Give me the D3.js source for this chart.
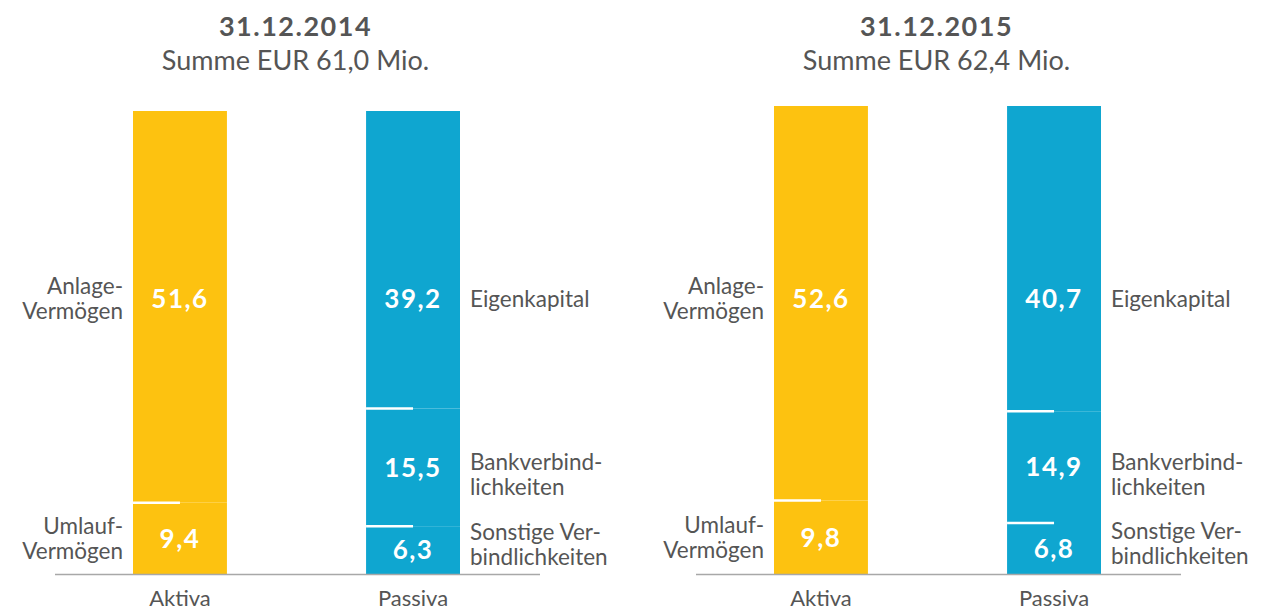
<!DOCTYPE html>
<html>
<head>
<meta charset="utf-8">
<script src="https://cdn.jsdelivr.net/npm/d3@7"></script>
<style>
  body { margin: 0; background: #fff; }
  svg { display: block; font-family: Lato, "Open Sans", sans-serif; }
</style>
</head>
<body>
<svg id="chart" width="1278" height="612"></svg>
<script>
// Data
const dates = ['31.12.2014', '31.12.2015'];
const totals = [61.0, 62.4];
const sides = ['Aktiva', 'Passiva'];

// bottom to top
const aktiva2014 = [9.4, 51.6];
const passiva2014 = [6.3, 15.5, 39.2];
const aktiva2015 = [9.8, 52.6];
const passiva2015 = [6.8, 14.9, 40.7];

const aktivaLabels = [['Umlauf-', 'Vermögen'], ['Anlage-', 'Vermögen']];
const passivaLabels = [['Sonstige Ver-', 'bindlichkeiten'], ['Bankverbind-', 'lichkeiten'], ['Eigenkapital']];

const panels = [
  { date: dates[0], total: totals[0], aktiva: aktiva2014, passiva: passiva2014 },
  { date: dates[1], total: totals[1], aktiva: aktiva2015, passiva: passiva2015 }
];

// Style
const yellow = '#FDC210';
const blue = '#0FA6D0';
const textColor = '#555555';
const baseY = 574;
const topLabelY = 299;
const panelOffset = 641;
const tops = [111, 106];
const sideFont = 22.5;

const de = d3.formatLocale({ decimal: ',', thousands: '.', grouping: [3], currency: ['', ' €'] });
const fmt = de.format('.1f');

const svg = d3.select('#chart');

panels.forEach((p, pi) => {
  const dx = pi * panelOffset;
  const g = svg.append('g').attr('transform', `translate(${dx},0)`);

  const x = d3.scaleBand()
    .domain(sides)
    .range([133, 460])
    .paddingInner(0.597)
    .paddingOuter(0);

  const y = d3.scaleLinear()
    .domain([0, p.total])
    .range([baseY, tops[pi]]);

  const cx = (x(sides[0]) + x(sides[1]) + x.bandwidth()) / 2 - 1;

  // Titles
  g.append('text')
    .attr('x', cx)
    .attr('y', 36)
    .attr('text-anchor', 'middle')
    .attr('fill', textColor)
    .style('font-size', '27px')
    .style('font-weight', 'bold')
    .style('letter-spacing', '1.5px')
    .text(p.date);

  g.append('text')
    .attr('x', cx)
    .attr('y', 70)
    .attr('text-anchor', 'middle')
    .attr('fill', textColor)
    .style('font-size', '27px')
    .text(`Summe EUR ${fmt(p.total)} Mio.`);

  // Stacks
  const groups = [
    { side: sides[0], values: p.aktiva, labels: aktivaLabels, color: yellow, labelLeft: true },
    { side: sides[1], values: p.passiva, labels: passivaLabels, color: blue, labelLeft: false }
  ];

  groups.forEach(grp => {
    const bx = x(grp.side);
    const bw = x.bandwidth();
    const ends = d3.cumsum(grp.values);
    const segs = grp.values.map((v, i) => ({ v, y0: ends[i] - v, y1: ends[i], label: grp.labels[i], top: i === grp.values.length - 1 }));

    g.selectAll(null)
      .data(segs)
      .enter()
      .append('rect')
      .attr('x', bx)
      .attr('width', bw)
      .attr('y', d => y(d.y1))
      .attr('height', d => y(d.y0) - y(d.y1))
      .attr('fill', grp.color);

    // divider lines
    g.selectAll(null)
      .data(segs.slice(0, -1))
      .enter()
      .append('line')
      .attr('x1', bx)
      .attr('x2', bx + bw / 2)
      .attr('y1', d => y(d.y1))
      .attr('y2', d => y(d.y1))
      .attr('stroke', '#fff')
      .attr('stroke-width', 2.5);

    const labelY = d => d.top ? topLabelY : (y(d.y0) + y(d.y1)) / 2;

    // value labels
    g.selectAll(null)
      .data(segs)
      .enter()
      .append('text')
      .attr('x', bx + bw / 2)
      .attr('y', labelY)
      .attr('dy', '0.36em')
      .attr('text-anchor', 'middle')
      .attr('fill', '#fff')
      .style('font-size', '26px')
      .style('font-weight', 'bold')
      .style('letter-spacing', '1.5px')
      .text(d => fmt(d.v));

    // side labels
    const lx = grp.labelLeft ? bx - 10 : bx + bw + 10;
    const lineH = 25;
    const side = g.selectAll(null)
      .data(segs)
      .enter()
      .append('text')
      .attr('x', lx)
      .attr('y', d => labelY(d) + (d.label.length > 1 && !grp.labelLeft ? (d.y0 === 0 ? -5 : 7) : 0))
      .attr('text-anchor', grp.labelLeft ? 'end' : 'start')
      .attr('fill', textColor)
      .style('font-size', `${sideFont}px`);

    side.each(function(d) {
      const n = d.label.length;
      d3.select(this).selectAll('tspan')
        .data(d.label)
        .enter()
        .append('tspan')
        .attr('x', lx)
        .attr('dy', (t, i) => i === 0 ? `${0.35 * sideFont - (n - 1) * lineH / 2}px` : `${lineH}px`)
        .text(t => t);
    });

    // category label
    g.append('text')
      .attr('x', bx + bw / 2)
      .attr('y', 606)
      .attr('text-anchor', 'middle')
      .attr('fill', textColor)
      .style('font-size', '22px')
      .text(grp.side);
  });

  // baseline
  g.append('line')
    .attr('x1', 55)
    .attr('x2', 540)
    .attr('y1', baseY + 0.5)
    .attr('y2', baseY + 0.5)
    .attr('stroke', '#A8A8A8')
    .attr('stroke-width', 1.5);
});
</script>
</body>
</html>
